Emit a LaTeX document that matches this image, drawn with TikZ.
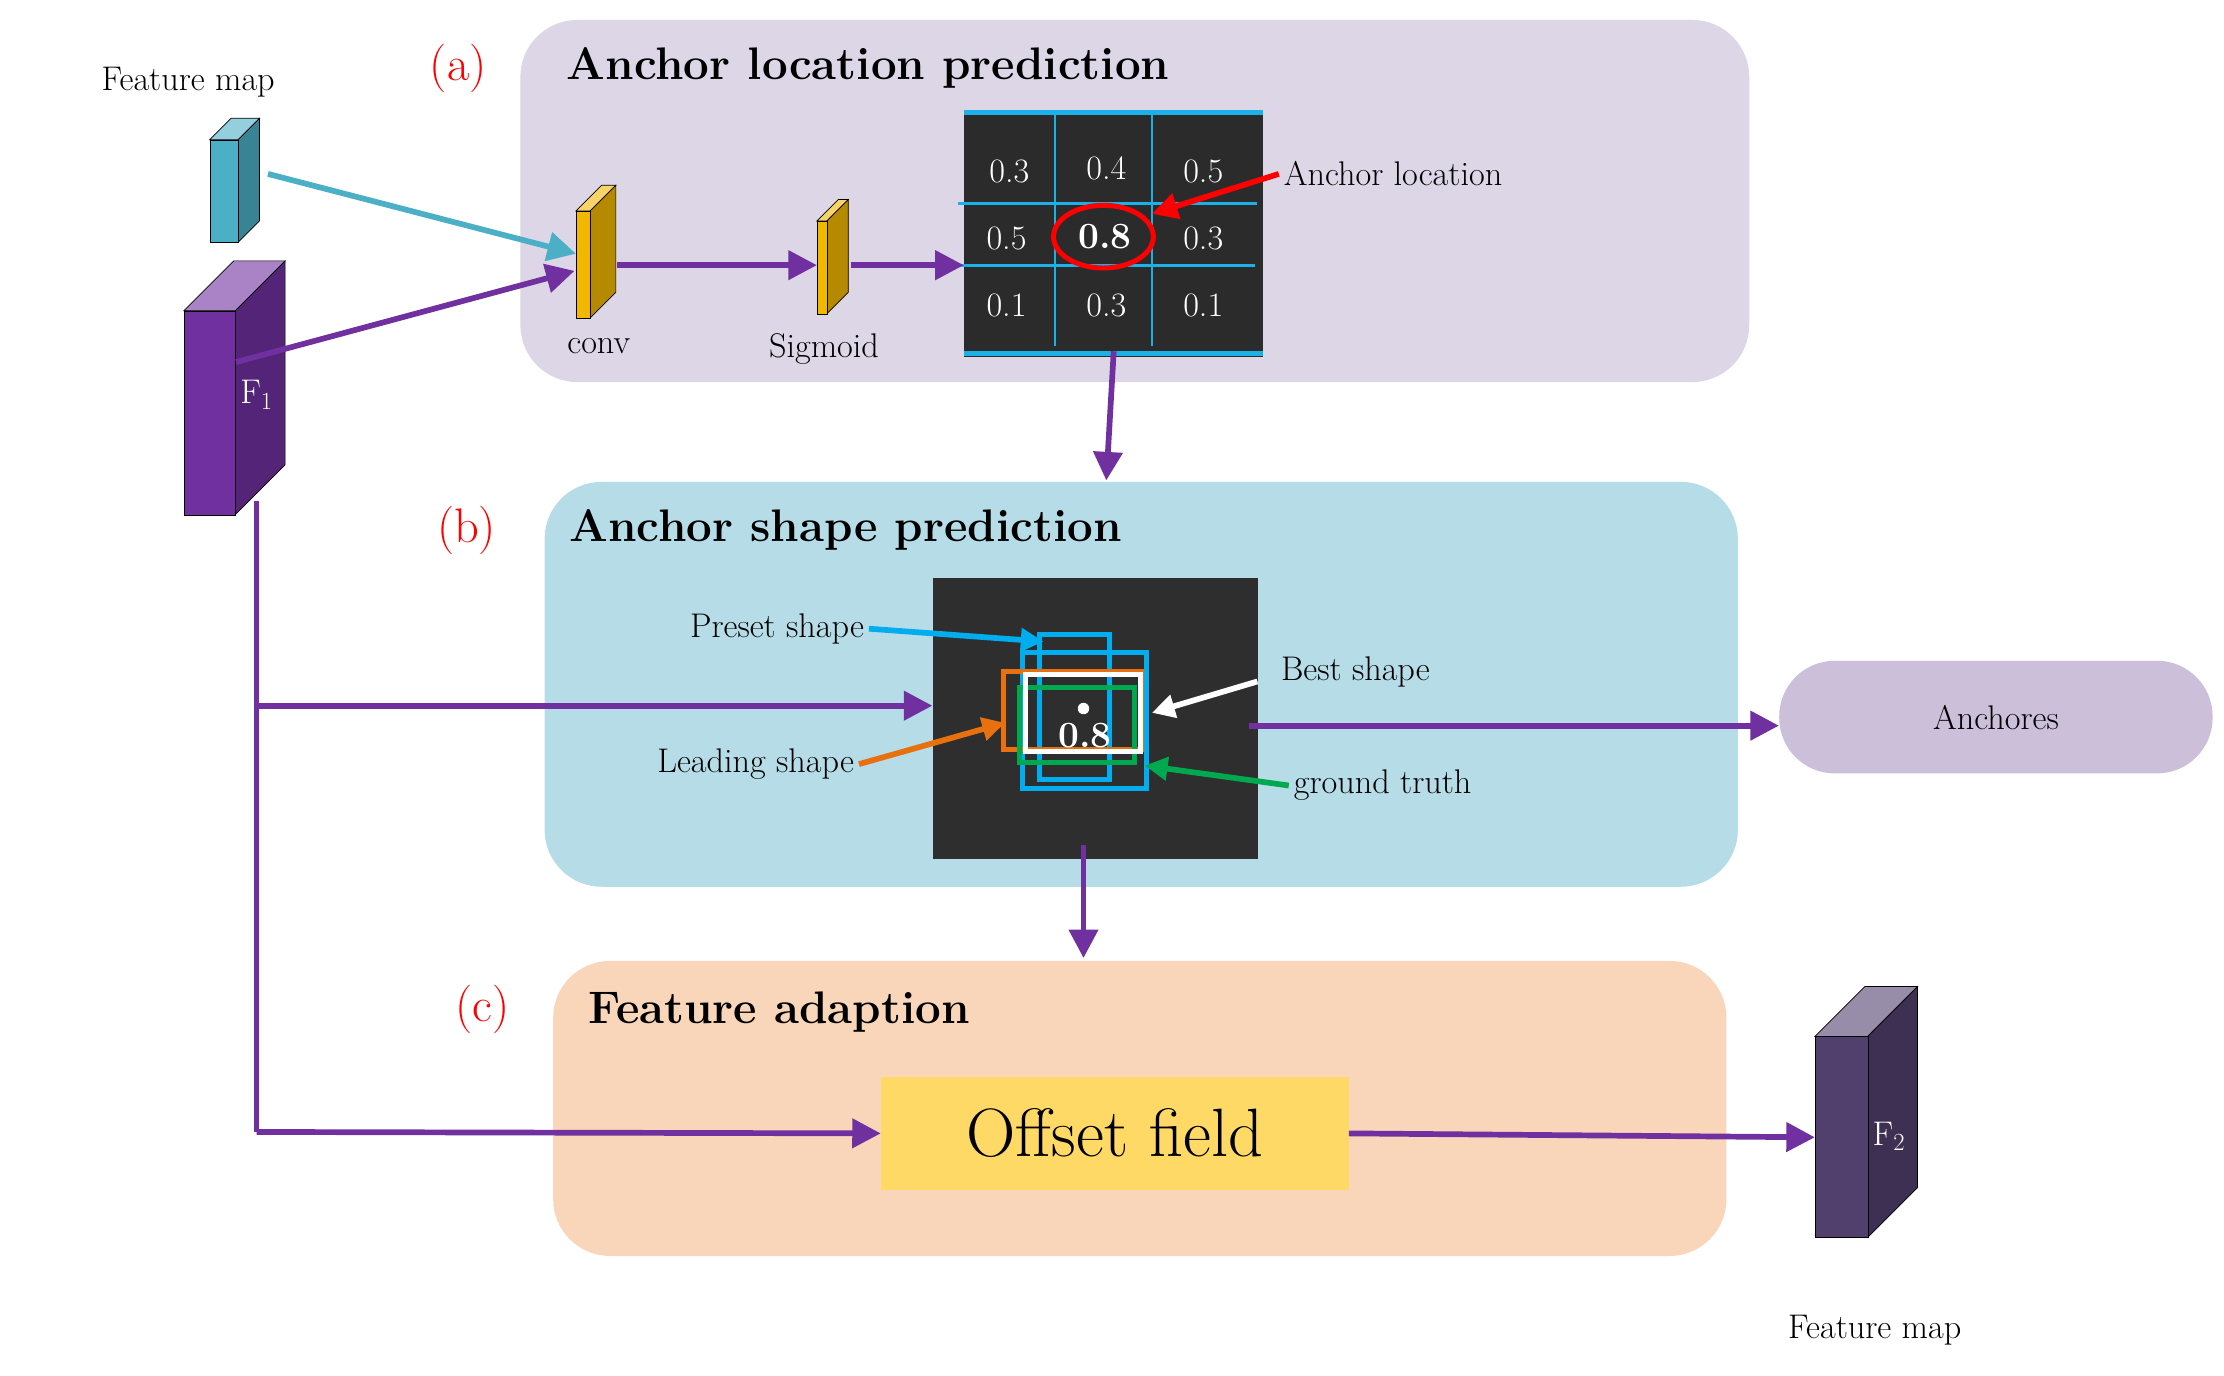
\documentclass[tikz,border=0pt]{standalone}
\usetikzlibrary{arrows.meta}
\begin{document}
\begin{tikzpicture}[x=1pt,y=-1pt,
 arr/.style={line width=4pt,-{Triangle[length=20pt,width=20pt]}},
 parr/.style={arr,draw=pur},
 panel/.style={rounded corners=40pt},
 lbl/.style={font=\fontsize{34}{34}\selectfont,text=red,anchor=west},
 ttl/.style={font=\fontsize{32}{32}\selectfont\bfseries,anchor=west},
 txt/.style={font=\fontsize{24}{24}\selectfont},
 num/.style={font=\fontsize{24}{24}\selectfont,text=white},
 box/.style={line width=3.5pt}]
\definecolor{pur}{HTML}{7030A0}
\definecolor{pa}{HTML}{DDD6E6}
\definecolor{pb}{HTML}{B6DDE7}
\definecolor{pc}{HTML}{F9D6B9}
\definecolor{pd}{HTML}{CBBFDA}
\definecolor{cy}{HTML}{4BAFC6}
\definecolor{gl}{HTML}{1BB0E8}
\definecolor{yel}{HTML}{FFD966}
\definecolor{cv}{HTML}{F2B800}
\definecolor{ftwo}{HTML}{51406E}
\definecolor{org}{HTML}{E8700F}
\definecolor{grn}{HTML}{00A850}
\definecolor{bsh}{HTML}{00AEEF}
\useasboundingbox (0,0) rectangle (1560,965);
\fill[white] (0,0) rectangle (1560,965);
% panels
\fill[pa,panel] (365,14) rectangle (1227,268);
\fill[pb,panel] (382,338) rectangle (1219,622);
\fill[pc,panel] (388,674) rectangle (1211,881);
\node[lbl] at (298,48) {(a)};
\node[lbl] at (303,372) {(b)};
\node[lbl] at (316,708) {(c)};
\node[ttl] at (394,48) {Anchor location prediction};
\node[ttl] at (396,372) {Anchor shape prediction};
\node[ttl] at (409,710) {Feature adaption};
% cuboids
\newcommand\cub[7]{% name, x1,y1,x2,y2, depth, color
 \fill[#7!60!white,draw=black,line width=0.5pt] (#2,#3) -- ++(#6,-#6) -- (#4+#6,#3-#6) -- (#4,#3) -- cycle;
 \fill[#7!75!black,draw=black,line width=0.5pt] (#4,#3) -- (#4+#6,#3-#6) -- (#4+#6,#5-#6) -- (#4,#5) -- cycle;
 \node[fill=#7,draw=black,line width=0.5pt,inner sep=0,minimum width={#4-#2},minimum height={#5-#3},anchor=north west] (#1) at (#2,#3) {};}
\cub{fm}{147}{98}{167}{170}{15}{cy}
\cub{fone}{129}{218}{165}{361}{35}{pur}
\cub{conv}{404}{148}{414}{223}{18}{cv}
\cub{sig}{573}{155}{580}{220}{15}{cv}
\cub{ftwo}{1273}{727}{1310}{868}{35}{ftwo}
\node[txt,text=white] at (180,277) {F$_1$};
\node[txt,text=white] at (1325,797) {F$_2$};
\node[txt] (fmt) at (132,58) {Feature map};
\node[txt] at (420,243) {conv};
\node[txt] at (578,245) {Sigmoid};
\node[txt] at (1315,933) {Feature map};
% grid
\node[fill=black!83,inner sep=0,minimum width=210,minimum height=173,anchor=north west] (grid) at (676,77) {};
\draw[gl,line width=4pt] (676,79)--(886,79) (676,248)--(886,248);
\draw[gl,line width=2pt] (740,80)--(740,243) (808,80)--(808,243) (672,143)--(882,143) (672,186)--(880,186);
\node[num] at (708,120) {0.3};\node[num] at (776,118) {0.4};\node[num] at (844,120) {0.5};
\node[num] at (706,167) {0.5};\node[num,font=\fontsize{26}{26}\selectfont\bfseries] at (775,166) {0.8};\node[num] at (844,167) {0.3};
\node[num] at (706,214) {0.1};\node[num] at (776,214) {0.3};\node[num] at (844,214) {0.1};
\draw[red,line width=3.5pt] (774,166) ellipse (35 and 22);
\node[txt,anchor=west] (al) at (897,122) {Anchor location};
\draw[red,line width=4pt,-{Triangle[length=18pt,width=18pt]}] (al.west) -- (808,150);
% arrows top
\draw[arr,draw=cy] (188,122) -- (conv.west|-0,178);
\draw[parr] (fone.east|-0,254) -- (403,190);
\draw[parr] (433,186) -- (sig.west|-0,186);
\draw[parr] (597,186) -- (grid.west|-0,186);
\draw[parr] (grid.south) ++(0,-4) -- (776,337);
% image b
\node[fill=black!82,inner sep=0,minimum width=228,minimum height=197,anchor=north west] (img) at (654,405) {};
\draw[bsh,box] (729,445) rectangle (778,547);
\draw[bsh,box] (717,458) rectangle (804,553);
\draw[org,box] (704,471) rectangle (801,526);
\draw[grn,box] (715,482) rectangle (796,535);
\draw[white,box] (719,473) rectangle (800,527);
\fill[white] (760,497) circle (4);
\node[num,font=\fontsize{26}{26}\selectfont\bfseries] at (761,516) {0.8};
\node[txt] (ps) at (545,441) {Preset shape};
\node[txt,anchor=west] (bs) at (895,471) {Best shape};
\node[txt] (ls) at (530,536) {Leading shape};
\node[txt,anchor=west] (gt) at (904,551) {ground truth};
\newcommand\sa[3]{\draw[#1,line width=4pt,-{Triangle[length=16pt,width=16pt]}] #2 -- #3;}
\sa{bsh}{(ps.east)}{(732,450)}
\sa{white}{(882,478)}{(808,500)}
\sa{org}{(ls.east)}{(705,507)}
\sa{grn}{(gt.west)}{(803,537)}
% anchors
\node[fill=pd,rounded corners=39pt,minimum width=304,minimum height=79,txt] (anc) at (1400,503) {Anchores};
\draw[parr] (876,509) -- (anc.west|-0,509);
\draw[parr] (760,593) -- (760,672);
% offset
\node[fill=yel,minimum width=328,minimum height=79,font=\fontsize{48}{48}\selectfont] (off) at (782,795) {Offset field};
\draw[parr] (off.east) -- (ftwo.west);
\coordinate (c1) at (180,794);
\draw[line width=4pt,pur] (fone.south-|180,0) ++(0,-10) -- (c1);
\draw[parr] (c1) -- (off.west);
\draw[parr] (180,495) -- (img.west|-0,495);
\end{tikzpicture}
\end{document}
